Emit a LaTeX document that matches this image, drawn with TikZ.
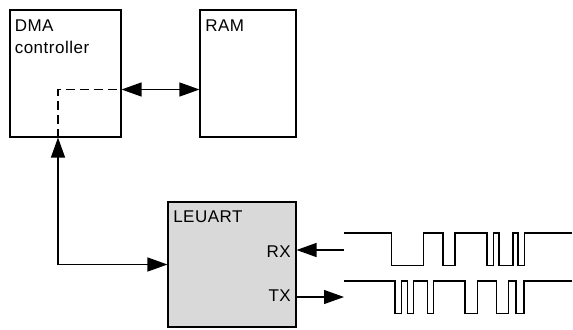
\documentclass[tikz,border=0pt]{standalone}
\usepackage{fontspec}
\setmainfont[LetterSpace=3]{Liberation Sans}
\usetikzlibrary{arrows.meta}
\definecolor{boxgray}{HTML}{D9D9D9}
\begin{document}
\begin{tikzpicture}[x=0.75pt,y=-0.75pt,
  >={Triangle[length=15pt,width=10.5pt]},
  box/.style={draw=black, line width=0.8pt, rectangle, inner sep=0pt},
  lbl/.style={inner sep=0pt, font=\fontsize{12.75pt}{16.3pt}\selectfont, align=left},
  conn/.style={line width=0.9pt},
  dashconn/.style={line width=0.9pt, dash pattern=on 6.75pt off 3.75pt},
  wave/.style={line width=0.9pt, line join=miter}]
\useasboundingbox (0,0) rectangle (573,329);

% blocks
\node[box, minimum width=83.25pt, minimum height=95.25pt] (dma) at (65.5,73.5) {};
\node[box, minimum width=72pt, minimum height=95.25pt] (ram) at (248,73.5) {};
\node[box, fill=boxgray, minimum width=96pt, minimum height=93.75pt] (leuart) at (232,264.5) {};

% labels
\node[lbl, anchor=north west] (dmalbl) at (14.5,19.5) {DMA\\controller};
\node[lbl, anchor=base west] (ramlbl) at (205,31) {RAM};
\node[lbl, anchor=base west] (leulbl) at (173,222.5) {LEUART};
\node[lbl, anchor=base east] (rxlbl) at (291,257) {RX};
\node[lbl, anchor=base east] (txlbl) at (291,301.5) {TX};

% coordinates
\coordinate (tap) at (58,89.5);
\coordinate (rxin) at (344,250);
\coordinate (txout) at (344,297);

% connectors
\draw[dashconn] (dma.south -| tap) -- (tap) -- (tap -| dma.east);
\draw[conn,<->] (tap -| dma.east) -- (tap -| ram.west);
\draw[conn,<->] (dma.south -| tap) -- (tap |- leuart.west) -- (leuart.west);
\draw[conn,->] (rxin) -- (rxin -| leuart.east);
\draw[conn,->] (leuart.east |- txout) -- (txout);

% RX waveform
\draw[wave] (344,233) -- (391.7,233) -- (391.7,265.5) -- (423.3,265.5) -- (423.3,233)
  -- (443,233) -- (443,265.5) -- (455,265.5) -- (455,233) -- (487,233) -- (487,265.5)
  -- (493.5,265.5) -- (493.5,233) -- (499,233) -- (499,265.5) -- (513,265.5) -- (513,233)
  -- (518,233) -- (518,265.5) -- (524.5,265.5) -- (524.5,233) -- (572,233);

% TX waveform
\draw[wave] (344,281) -- (395,281) -- (395,313.5) -- (401.7,313.5) -- (401.7,281)
  -- (407.3,281) -- (407.3,313.5) -- (413.3,313.5) -- (413.3,281) -- (427.3,281)
  -- (427.3,313.5) -- (433.3,313.5) -- (433.3,281) -- (465,281) -- (465,313.5)
  -- (477.3,313.5) -- (477.3,281) -- (496.7,281) -- (496.7,313.5) -- (508.5,313.5)
  -- (508.5,281) -- (516,281) -- (516,313.5) -- (524,313.5) -- (524,281) -- (572,281);
\end{tikzpicture}
\end{document}
